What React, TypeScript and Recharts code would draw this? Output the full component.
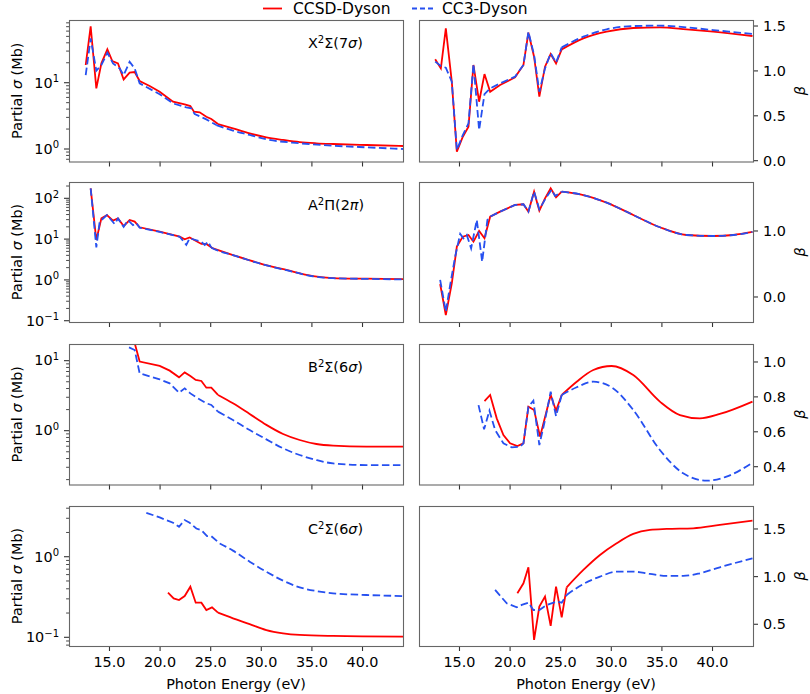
import React from 'react';
import { LineChart, Line, XAxis, YAxis } from 'recharts';

const FONT = '"DejaVu Sans", "Noto Sans", sans-serif';
const RED = '#ff0000';
const BLUE = '#2650f0';
const FRAME = '#666666';
const TICK = '#333333';

// ---------- shared axis data ----------
const X_DOMAIN: [number, number] = [11, 44];
const X_TICKS = [15, 20, 25, 30, 35, 40];
const SERIES_NAMES = ['CCSD-Dyson', 'CC3-Dyson'];
const STATE_LABELS = [
  ['X', 'Σ', '7', 'σ'],
  ['A', 'Π', '2', 'π'],
  ['B', 'Σ', '6', 'σ'],
  ['C', 'Σ', '6', 'σ'],
];

// ---------- X²Σ(7σ) ----------
const X_SIG_CCSD_E = [12.65, 13.14, 13.7, 14.2, 14.79, 15.28, 15.84, 16.4, 16.99, 17.49, 17.98, 18.97, 19.96, 21.28, 22.43, 22.99, 23.35, 23.91, 24.57, 25.06, 25.72, 27.2, 28.85, 30.5, 32.15, 33.79, 35.44, 37.09, 40.38, 44];
const X_SIG_CCSD = [18.5, 71, 8.2, 19.6, 31.8, 21.2, 19.6, 11.2, 14.2, 14.5, 10.6, 8.9, 7.3, 5.18, 4.71, 4.45, 3.66, 3.57, 3.07, 2.83, 2.38, 2.05, 1.72, 1.5, 1.37, 1.27, 1.22, 1.19, 1.15, 1.11];
const X_SIG_CC3_E = [12.65, 13.14, 13.7, 14.2, 14.79, 15.35, 16.0, 16.4, 16.99, 17.49, 17.98, 19.96, 21.28, 22.59, 23.09, 23.42, 24.57, 25.56, 27.2, 28.85, 30.5, 33.79, 37.09, 40.38, 44];
const X_SIG_CC3 = [13.0, 46.5, 15.2, 18.5, 28.3, 19.6, 16.4, 13.0, 20.7, 16.4, 9.77, 6.7, 4.87, 4.25, 4.1, 3.37, 2.8, 2.3, 1.89, 1.63, 1.4, 1.22, 1.12, 1.06, 1.0];
const X_BETA_CCSD_E = [12.6, 13.16, 13.65, 14.24, 14.74, 15.33, 15.89, 16.38, 16.94, 17.47, 18.03, 19.01, 20.49, 21.32, 21.81, 22.37, 22.89, 23.45, 24.01, 24.54, 25.1, 27.24, 29.54, 32.17, 34.8, 37.43, 40.07, 43.95];
const X_BETA_CCSD = [1.129, 1.028, 1.474, 0.88, 0.1, 0.267, 0.379, 1.066, 0.657, 0.965, 0.768, 0.843, 0.928, 1.066, 1.426, 1.158, 0.713, 1.047, 1.188, 1.084, 1.24, 1.363, 1.437, 1.478, 1.485, 1.463, 1.437, 1.389];
const X_BETA_CC3_E = [12.6, 13.16, 13.65, 14.24, 14.74, 15.33, 15.89, 16.38, 16.94, 17.47, 18.03, 19.01, 20.49, 21.32, 21.81, 22.37, 22.89, 23.45, 24.01, 24.54, 25.1, 27.24, 29.54, 32.17, 34.8, 37.43, 40.07, 43.95];
const X_BETA_CC3 = [1.103, 1.054, 1.036, 0.88, 0.119, 0.286, 0.416, 1.077, 0.341, 0.742, 0.806, 0.861, 0.936, 1.066, 1.437, 1.177, 0.768, 1.028, 1.196, 1.092, 1.262, 1.381, 1.463, 1.5, 1.504, 1.485, 1.455, 1.411];

// ---------- A²Π(2π) ----------
const A_SIG_CCSD_E = [13.14, 13.7, 14.2, 14.75, 15.35, 15.84, 16.4, 16.99, 17.49, 17.98, 19.96, 21.94, 22.43, 22.92, 24.08, 24.57, 25.23, 27.2, 29.84, 32.48, 35.11, 37.09, 40.38, 44];
const A_SIG_CCSD = [176, 9.5, 32.4, 39, 28.3, 32.4, 20.9, 29.4, 26.8, 19.5, 15.2, 11.5, 9.9, 11.0, 7.6, 7.6, 5.9, 4.07, 2.55, 1.75, 1.24, 1.11, 1.07, 1.04];
const A_SIG_CC3_E = [13.14, 13.7, 14.03, 14.75, 15.51, 15.84, 16.4, 16.83, 17.32, 17.65, 17.98, 19.96, 21.94, 22.59, 22.92, 24.08, 24.41, 24.74, 25.06, 25.23, 27.2, 29.84, 32.48, 35.11, 37.09, 40.38, 44];
const A_SIG_CC3 = [176, 6.3, 26.8, 39, 23.4, 32, 20, 29, 22, 25, 19, 15.0, 11.4, 7.2, 10.5, 8.6, 7.2, 8.6, 6.2, 5.9, 4.05, 2.53, 1.73, 1.23, 1.1, 1.06, 1.03];
const A_BETA_CCSD_E = [13.09, 13.65, 14.24, 14.74, 15.33, 15.89, 16.38, 16.94, 17.47, 18.03, 19.01, 20.49, 21.32, 21.81, 22.37, 22.89, 23.45, 24.01, 24.54, 25.1, 27.24, 29.54, 32.17, 34.8, 37.43, 40.07, 42.04, 43.95];
const A_BETA_CCSD = [0.197, -0.273, 0.207, 0.763, 0.914, 0.939, 0.838, 1.0, 0.889, 1.217, 1.293, 1.394, 1.404, 1.293, 1.596, 1.308, 1.495, 1.646, 1.51, 1.596, 1.545, 1.429, 1.242, 1.056, 0.939, 0.924, 0.939, 0.985];
const A_BETA_CC3_E = [13.09, 13.65, 14.08, 14.57, 15.07, 15.39, 15.72, 16.15, 16.71, 17.24, 17.76, 18.03, 19.01, 20.49, 21.32, 21.81, 22.37, 22.89, 23.62, 24.11, 24.44, 25.1, 27.24, 29.54, 32.17, 34.8, 37.43, 40.07, 42.04, 43.95];
const A_BETA_CC3 = [0.258, -0.222, 0.182, 0.611, 0.955, 0.889, 0.939, 0.737, 1.167, 0.535, 1.167, 1.217, 1.293, 1.394, 1.404, 1.293, 1.596, 1.328, 1.52, 1.626, 1.53, 1.596, 1.545, 1.429, 1.242, 1.056, 0.939, 0.924, 0.939, 0.985];

// ---------- B²Σ(6σ) ----------
const B_SIG_CCSD_E = [17.32, 17.98, 19.96, 20.95, 21.87, 22.43, 22.99, 23.52, 24.08, 24.57, 25.06, 25.72, 27.2, 28.85, 30.5, 32.15, 33.79, 35.44, 37.09, 40.38, 44];
const B_SIG_CCSD = [22, 9.7, 8.4, 7.2, 5.78, 6.8, 6.04, 5.3, 5.13, 4.11, 4.11, 3.24, 2.46, 1.73, 1.21, 0.896, 0.736, 0.645, 0.61, 0.59, 0.59];
const B_SIG_CC3_E = [16.93, 17.49, 17.98, 19.96, 20.95, 21.87, 22.43, 22.99, 23.58, 24.57, 25.06, 25.72, 27.2, 28.85, 30.5, 32.15, 33.79, 35.44, 37.09, 40.38, 44];
const B_SIG_CC3 = [15.5, 14.2, 6.6, 5.41, 4.74, 3.49, 4.03, 3.41, 2.99, 2.46, 2.33, 1.87, 1.42, 1.02, 0.752, 0.56, 0.449, 0.381, 0.341, 0.323, 0.323];
const B_BETA_CCSD_E = [17.47, 18.03, 18.68, 19.34, 20.0, 20.72, 21.32, 21.81, 22.37, 22.96, 24.01, 24.54, 25.1, 26.58, 28.22, 30.03, 32.17, 34.8, 36.78, 38.75, 40.72, 43.95];
const B_BETA_CCSD = [0.776, 0.811, 0.677, 0.581, 0.534, 0.518, 0.534, 0.744, 0.725, 0.572, 0.811, 0.721, 0.811, 0.887, 0.954, 0.977, 0.925, 0.773, 0.696, 0.677, 0.702, 0.773];
const B_BETA_CC3_E = [16.88, 17.43, 17.96, 18.52, 19.34, 20.16, 20.99, 21.32, 21.81, 22.3, 22.89, 23.45, 24.01, 24.54, 25.1, 26.58, 28.22, 30.03, 32.17, 34.8, 37.1, 39.41, 41.38, 43.95];
const B_BETA_CC3 = [0.753, 0.614, 0.721, 0.61, 0.534, 0.511, 0.515, 0.534, 0.744, 0.778, 0.524, 0.667, 0.83, 0.69, 0.811, 0.855, 0.887, 0.855, 0.725, 0.496, 0.362, 0.32, 0.343, 0.423];

// ---------- C²Σ(6σ) ----------
const C_SIG_CCSD_E = [20.78, 21.34, 21.87, 22.43, 22.99, 23.52, 24.08, 24.57, 25.13, 25.72, 27.2, 28.85, 30.5, 32.15, 33.79, 37.09, 44];
const C_SIG_CCSD = [0.358, 0.304, 0.29, 0.325, 0.425, 0.269, 0.269, 0.218, 0.235, 0.202, 0.172, 0.146, 0.123, 0.112, 0.107, 0.104, 0.102];
const C_SIG_CC3_E = [18.64, 19.96, 21.28, 21.87, 22.43, 22.92, 23.58, 24.08, 24.64, 25.06, 25.89, 27.2, 28.85, 30.5, 32.15, 33.79, 35.44, 37.09, 40.38, 44];
const C_SIG_CC3 = [3.51, 3.07, 2.64, 2.35, 2.85, 2.64, 2.24, 2.14, 1.8, 1.8, 1.46, 1.19, 0.867, 0.652, 0.504, 0.417, 0.375, 0.351, 0.335, 0.325];
const C_BETA_CCSD_E = [20.72, 21.32, 21.81, 22.37, 22.89, 23.45, 24.01, 24.54, 25.1, 25.59, 27.24, 28.88, 30.53, 32.17, 33.82, 35.46, 38.09, 40.72, 43.95];
const C_BETA_CCSD = [0.825, 0.93, 1.098, 0.336, 0.685, 0.79, 0.483, 0.895, 0.573, 0.888, 1.07, 1.227, 1.35, 1.448, 1.49, 1.5, 1.507, 1.542, 1.587];
const C_BETA_CC3_E = [18.52, 19.67, 20.66, 21.15, 21.81, 22.3, 22.89, 23.62, 24.6, 25.1, 25.59, 27.24, 28.88, 30.53, 32.17, 33.82, 35.46, 37.1, 38.75, 40.72, 43.95];
const C_BETA_CC3 = [0.86, 0.72, 0.678, 0.703, 0.727, 0.65, 0.65, 0.703, 0.738, 0.727, 0.808, 0.923, 1.0, 1.052, 1.052, 1.028, 1.007, 1.007, 1.035, 1.098, 1.192];

// ---------- axis ranges & ticks ----------
const SIG_DOMAINS: [number, number][] = [[0.648, 88.3], [0.093, 251], [0.1703, 17.3], [0.078, 4.26]];
const SIG_DECADES = [[0, 1], [-1, 0, 1, 2], [0, 1], [-1, 0]];
const BETA_DOMAINS: [number, number][] = [[-0.009, 1.567], [-0.379, 1.742], [0.298, 1.103], [0.272, 1.741]];
const BETA_TICKS = [[0.0, 0.5, 1.0, 1.5], [0.0, 1.0], [0.4, 0.6, 0.8, 1.0], [0.5, 1.0, 1.5]];
// energy above which the computed curves are smooth (drawn with a smooth interpolation)
const SIG_SMOOTH_FROM = [25.5, 25.0, 25.5, 25.5];
const BETA_SMOOTH_FROM = [25.0, 25.0, 25.0, 25.5];

// ---------- layout ----------
const ROW_TOPS = [20, 182, 344, 506];
const ROW_H = [141.5, 140, 140.5, 140];
const LEFT_X = 69;
const RIGHT_X = 419;
const PLOT_W = 334;

const pts = (e: number[], v: number[]) => e.map((x, i) => ({ x, y: v[i] }));

const ROWS = [
  { sig: [pts(X_SIG_CCSD_E, X_SIG_CCSD), pts(X_SIG_CC3_E, X_SIG_CC3)], beta: [pts(X_BETA_CCSD_E, X_BETA_CCSD), pts(X_BETA_CC3_E, X_BETA_CC3)] },
  { sig: [pts(A_SIG_CCSD_E, A_SIG_CCSD), pts(A_SIG_CC3_E, A_SIG_CC3)], beta: [pts(A_BETA_CCSD_E, A_BETA_CCSD), pts(A_BETA_CC3_E, A_BETA_CC3)] },
  { sig: [pts(B_SIG_CCSD_E, B_SIG_CCSD), pts(B_SIG_CC3_E, B_SIG_CC3)], beta: [pts(B_BETA_CCSD_E, B_BETA_CCSD), pts(B_BETA_CC3_E, B_BETA_CC3)] },
  { sig: [pts(C_SIG_CCSD_E, C_SIG_CCSD), pts(C_SIG_CC3_E, C_SIG_CC3)], beta: [pts(C_BETA_CCSD_E, C_BETA_CCSD), pts(C_BETA_CC3_E, C_BETA_CC3)] },
];

function split(data: { x: number; y: number }[], from: number) {
  let k = data.findIndex((p) => p.x >= from);
  if (k < 0) k = data.length - 1;
  return [data.slice(0, k + 1), data.slice(k)];
}

function logTicks(decades: number[], dom: [number, number]) {
  const out: number[] = [];
  const lo = Math.min(...decades) - 1;
  const hi = Math.max(...decades) + 1;
  for (let d = lo; d <= hi; d++) {
    for (let m = 1; m <= 9; m++) {
      const v = +(m * Math.pow(10, d)).toPrecision(6);
      if (v >= dom[0] && v <= dom[1]) out.push(v);
    }
  }
  return out;
}

const XTick = (showLabel: boolean) => (props: any) => {
  const { x, y, payload } = props;
  return (
    <g>
      <line x1={x} x2={x} y1={y} y2={y + 5} stroke={TICK} strokeWidth={1.1} />
      {showLabel && (
        <text x={x} y={y + 21} textAnchor="middle" fontSize={14.4} fontFamily={FONT} fill="#000">
          {Number(payload.value).toFixed(1)}
        </text>
      )}
    </g>
  );
};

const LogTick = (props: any) => {
  const { x, y, payload } = props;
  const v = Number(payload.value);
  const e = Math.log10(v);
  const major = Math.abs(e - Math.round(e)) < 1e-6;
  if (!major) {
    return <line x1={x - 2.9} x2={x} y1={y} y2={y} stroke={TICK} strokeWidth={0.9} />;
  }
  const exp = Math.round(e);
  const expStr = exp < 0 ? '\u2212' + Math.abs(exp) : String(exp);
  return (
    <g>
      <line x1={x - 5} x2={x} y1={y} y2={y} stroke={TICK} strokeWidth={1.1} />
      <text x={x - 10} y={y + 4.8} textAnchor="end" fontSize={14.4} fontFamily={FONT} fill="#000">
        10<tspan dy={-5.5} fontSize={10}>{expStr}</tspan>
      </text>
    </g>
  );
};

const BetaTick = (props: any) => {
  const { x, y, payload } = props;
  return (
    <g>
      <line x1={x} x2={x + 5} y1={y} y2={y} stroke={TICK} strokeWidth={1.1} />
      <text x={x + 10} y={y + 5} textAnchor="start" fontSize={14.4} fontFamily={FONT} fill="#000">
        {Number(payload.value).toFixed(1)}
      </text>
    </g>
  );
};

function seriesLines(red: any[], blue: any[], from: number) {
  const [rLin, rSm] = split(red, from);
  const [bLin, bSm] = split(blue, from);
  const common = { dataKey: 'y', strokeWidth: 1.8, dot: false, isAnimationActive: false } as const;
  return [
    <Line key="r1" data={rLin} type="linear" stroke={RED} {...common} />,
    <Line key="r2" data={rSm} type="monotone" stroke={RED} {...common} />,
    <Line key="b1" data={bLin} type="linear" stroke={BLUE} strokeDasharray="7.5 3.5" {...common} />,
    <Line key="b2" data={bSm} type="monotone" stroke={BLUE} strokeDasharray="7.5 3.5" {...common} />,
  ];
}

function SigmaPanel({ row }: { row: number }) {
  const top = ROW_TOPS[row];
  const h = ROW_H[row];
  const bottom = row === 3;
  const xh = bottom ? 50 : 8;
  const dom = SIG_DOMAINS[row];
  const [red, blue] = ROWS[row].sig;
  return (
    <div style={{ position: 'absolute', left: 0, top: top - 5 }}>
      <LineChart width={LEFT_X + PLOT_W + 5} height={5 + h + xh} margin={{ top: 5, right: 5, bottom: 0, left: 0 }}>
        <XAxis dataKey="x" type="number" domain={X_DOMAIN} ticks={X_TICKS} allowDataOverflow interval={0}
          height={xh} tickSize={0} tickMargin={0} tickLine={false} axisLine={false} tick={XTick(bottom)} />
        <YAxis type="number" scale="log" domain={dom} allowDataOverflow ticks={logTicks(SIG_DECADES[row], dom)} interval={0}
          width={LEFT_X} tickSize={0} tickMargin={0} tickLine={false} axisLine={false} tick={LogTick} />
        {seriesLines(red, blue, SIG_SMOOTH_FROM[row])}
      </LineChart>
    </div>
  );
}

function BetaPanel({ row }: { row: number }) {
  const top = ROW_TOPS[row];
  const h = ROW_H[row];
  const bottom = row === 3;
  const xh = bottom ? 50 : 8;
  const [red, blue] = ROWS[row].beta;
  return (
    <div style={{ position: 'absolute', left: RIGHT_X, top: top - 5 }}>
      <LineChart width={PLOT_W + 50} height={5 + h + xh} margin={{ top: 5, right: 0, bottom: 0, left: 0 }}>
        <XAxis dataKey="x" type="number" domain={X_DOMAIN} ticks={X_TICKS} allowDataOverflow interval={0}
          height={xh} tickSize={0} tickMargin={0} tickLine={false} axisLine={false} tick={XTick(bottom)} />
        <YAxis type="number" orientation="right" domain={BETA_DOMAINS[row]} allowDataOverflow ticks={BETA_TICKS[row]} interval={0}
          width={50} tickSize={0} tickMargin={0} tickLine={false} axisLine={false} tick={BetaTick} />
        {seriesLines(red, blue, BETA_SMOOTH_FROM[row])}
      </LineChart>
    </div>
  );
}

function Overlay() {
  return (
    <svg width={810} height={694} style={{ position: 'absolute', left: 0, top: 0, pointerEvents: 'none' }} fontFamily={FONT}>
      {ROW_TOPS.map((top, r) => (
        <g key={r}>
          <rect x={LEFT_X + 0.5} y={top + 0.5} width={PLOT_W} height={ROW_H[r]} fill="none" stroke={FRAME} strokeWidth={1.1} />
          <rect x={RIGHT_X + 0.5} y={top + 0.5} width={PLOT_W} height={ROW_H[r]} fill="none" stroke={FRAME} strokeWidth={1.1} />
          <text x={308} y={top + 27.5} fontSize={14.4} fill="#000">
            {STATE_LABELS[r][0]}
            <tspan dy={-5} fontSize={10}>2</tspan>
            <tspan dy={5}>{STATE_LABELS[r][1]}({STATE_LABELS[r][2]}</tspan>
            <tspan fontStyle="italic">{STATE_LABELS[r][3]}</tspan>
            <tspan>)</tspan>
          </text>
          <text transform={`translate(21.5, ${top + ROW_H[r] / 2}) rotate(-90)`} textAnchor="middle" fontSize={14.4} fill="#000">
            Partial <tspan fontStyle="italic">σ</tspan> (Mb)
          </text>
          <text transform={`translate(805, ${top + ROW_H[r] / 2}) rotate(-90)`} textAnchor="middle" fontSize={14.4} fontStyle="italic" fill="#000">
            β
          </text>
        </g>
      ))}
      <text x={LEFT_X + PLOT_W / 2} y={688.5} textAnchor="middle" fontSize={14.4} fill="#000">Photon Energy (eV)</text>
      <text x={RIGHT_X + PLOT_W / 2} y={688.5} textAnchor="middle" fontSize={14.4} fill="#000">Photon Energy (eV)</text>
      <line x1={263} x2={282} y1={8.5} y2={8.5} stroke={RED} strokeWidth={1.8} />
      <text x={293} y={14} fontSize={15.5} fill="#000">{SERIES_NAMES[0]}</text>
      <line x1={412} x2={433} y1={8.5} y2={8.5} stroke={BLUE} strokeWidth={1.8} strokeDasharray="5 3" />
      <text x={442} y={14} fontSize={15.5} fill="#000">{SERIES_NAMES[1]}</text>
    </svg>
  );
}

export default function App() {
  return (
    <div style={{ position: 'absolute', left: 0, top: 0, width: 810, height: 694, background: '#fff', overflow: 'hidden' }}>
      {[0, 1, 2, 3].map((r) => (
        <React.Fragment key={r}>
          <SigmaPanel row={r} />
          <BetaPanel row={r} />
        </React.Fragment>
      ))}
      <Overlay />
    </div>
  );
}
